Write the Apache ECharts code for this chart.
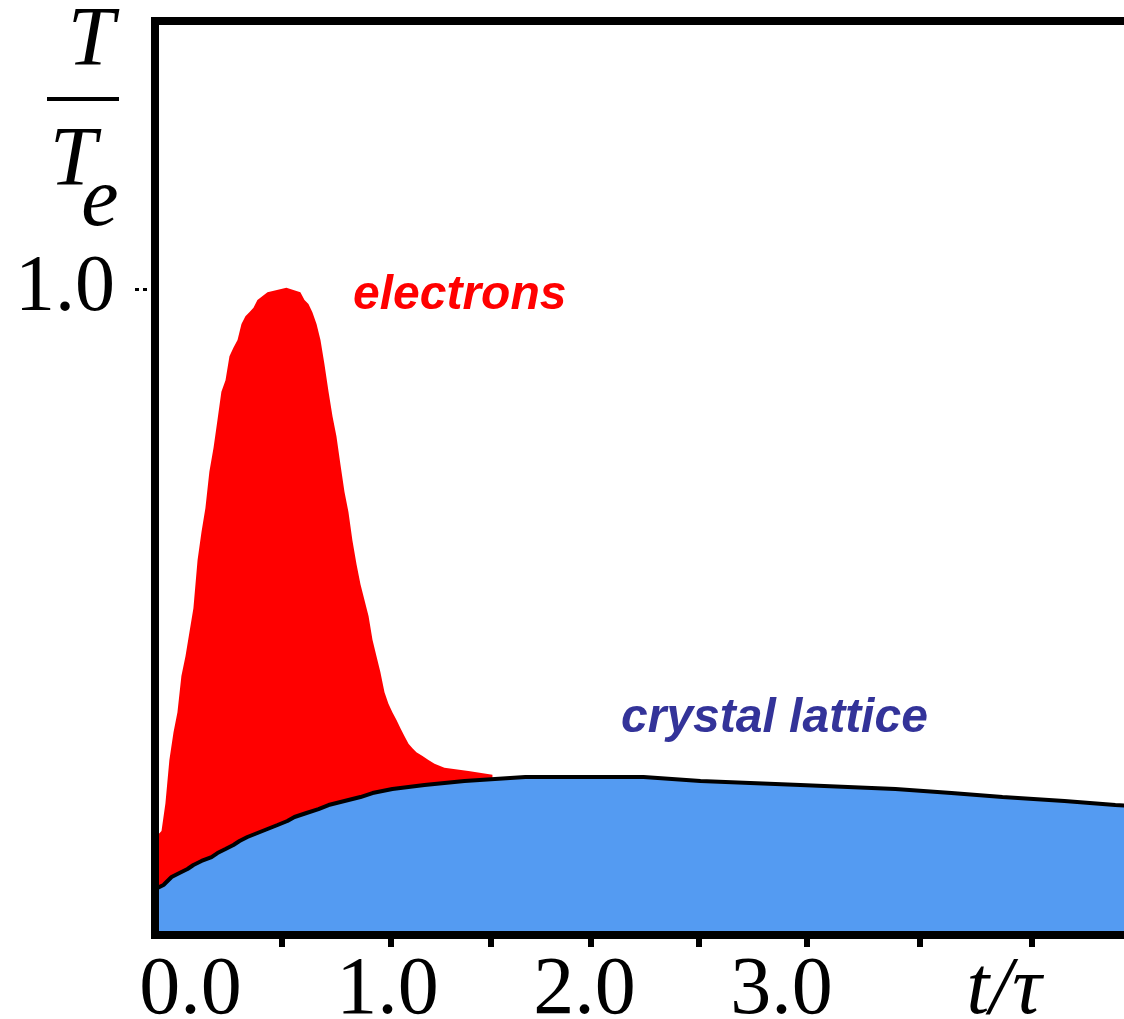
<!DOCTYPE html>
<html>
<head>
<meta charset="utf-8">
<script src="https://cdn.jsdelivr.net/npm/echarts@6/dist/echarts.min.js"></script>
<style>
  html, body { margin: 0; padding: 0; background: #ffffff; }
  #chart { width: 1124px; height: 1019px; }
</style>
</head>
<body>
<div id="chart"></div>
<script>
// ---- data (t/τ, T/Te) ----
const electronsT = [-0.18, -0.147, -0.127, -0.107, -0.086, -0.066, -0.046, -0.025, -0.005, 0.015, 0.036, 0.056, 0.076, 0.096, 0.117, 0.137, 0.157, 0.178, 0.198, 0.218, 0.239, 0.259, 0.279, 0.299, 0.320, 0.340, 0.391, 0.487, 0.558, 0.579, 0.599, 0.619, 0.640, 0.660, 0.680, 0.701, 0.721, 0.741, 0.761, 0.782, 0.802, 0.822, 0.843, 0.863, 0.883, 0.904, 0.924, 0.944, 0.964, 0.985, 1.005, 1.025, 1.046, 1.066, 1.086, 1.107, 1.127, 1.147, 1.178, 1.208, 1.239, 1.289, 1.411, 1.533];
const electronsY = [0.150, 0.161, 0.204, 0.271, 0.314, 0.345, 0.401, 0.432, 0.469, 0.506, 0.580, 0.624, 0.661, 0.717, 0.754, 0.797, 0.841, 0.859, 0.896, 0.909, 0.921, 0.946, 0.958, 0.964, 0.971, 0.983, 0.995, 1.002, 0.995, 0.983, 0.977, 0.964, 0.946, 0.921, 0.884, 0.841, 0.803, 0.772, 0.729, 0.686, 0.655, 0.611, 0.574, 0.543, 0.519, 0.494, 0.457, 0.432, 0.407, 0.376, 0.358, 0.345, 0.333, 0.320, 0.308, 0.296, 0.289, 0.283, 0.277, 0.271, 0.265, 0.259, 0.254, 0.248];

const latticeT = [-0.18, -0.137, -0.096, -0.056, -0.015, 0.015, 0.056, 0.107, 0.137, 0.178, 0.218, 0.249, 0.289, 0.340, 0.391, 0.442, 0.492, 0.528, 0.589, 0.650, 0.701, 0.782, 0.863, 0.924, 1.025, 1.188, 1.391, 1.700, 2.000, 2.300, 2.589, 3.096, 3.579, 3.863, 4.122, 4.437, 4.695, 4.802];
const latticeY = [0.071, 0.0774, 0.0898, 0.0960, 0.1022, 0.1084, 0.1146, 0.1207, 0.1269, 0.1331, 0.1393, 0.1455, 0.1517, 0.1579, 0.1641, 0.1703, 0.1765, 0.1827, 0.1889, 0.1950, 0.2012, 0.2074, 0.2136, 0.2198, 0.2260, 0.2322, 0.2384, 0.2446, 0.2446, 0.2446, 0.2384, 0.2322, 0.2260, 0.2198, 0.2136, 0.2074, 0.2012, 0.1997];

const xLabelValues = [0, 1, 2, 3, 4.13];
const xLabelTexts = ['0.0', '1.0', '2.0', '3.0', 't/τ'];
const xTickValues = [0.462, 1.015, 1.523, 2.030, 2.579, 3.127, 3.701, 4.269];
const yLabelValues = [1.0];
const yLabelTexts = ['1.0'];

const seriesNames = ['electrons', 'crystal lattice'];

// ---- chart ----
const chart = echarts.init(document.getElementById('chart'), null, { renderer: 'canvas' });

function zip(a, b) { return a.map((v, i) => [v, b[i]]); }
function pick(values, texts, v) {
  let best = 0;
  for (let i = 1; i < values.length; i++) {
    if (Math.abs(values[i] - v) < Math.abs(values[best] - v)) best = i;
  }
  return texts[best];
}

const GRID_LEFT = 155, GRID_TOP = 21, GRID_BOTTOM = 84, GRID_RIGHT = -12;

const option = {
  animation: false,
  backgroundColor: '#ffffff',
  grid: {
    left: GRID_LEFT, top: GRID_TOP, bottom: GRID_BOTTOM, right: GRID_RIGHT,
    containLabel: false, outerBoundsMode: 'none', show: false
  },
  xAxis: {
    type: 'value',
    min: -0.18,
    max: 4.8,
    axisLine: { show: false, onZero: false },
    splitLine: { show: false },
    axisTick: {
      show: true,
      customValues: xTickValues,
      length: 12,
      lineStyle: { color: '#000000', width: 6 }
    },
    axisLabel: {
      show: true,
      customValues: xLabelValues,
      margin: 15,
      color: '#000000',
      fontFamily: 'Liberation Serif',
      fontSize: 82,
      lineHeight: 82,
      formatter: function (v) {
        const t = pick(xLabelValues, xLabelTexts, v);
        return t === 't/τ' ? '{it|' + t + '}' : t;
      },
      rich: {
        it: { fontFamily: 'Liberation Serif', fontStyle: 'italic', fontSize: 82, lineHeight: 82, color: '#000000' }
      }
    }
  },
  yAxis: {
    type: 'value',
    min: 0,
    max: 1.415,
    axisLine: { show: false, onZero: false },
    splitLine: { show: false },
    axisTick: {
      show: true,
      customValues: yLabelValues,
      length: 20,
      lineStyle: { color: '#000000', width: 3, type: [4, 4] }
    },
    axisLabel: {
      show: true,
      customValues: yLabelValues,
      margin: 40,
      color: '#000000',
      fontFamily: 'Liberation Serif',
      fontSize: 80,
      lineHeight: 80,
      padding: [40, 0, 0, 0],
      formatter: function (v) { return pick(yLabelValues, yLabelTexts, v); }
    }
  },
  series: [
    {
      name: seriesNames[0],
      type: 'line',
      data: zip(electronsT, electronsY),
      symbol: 'none',
      lineStyle: { opacity: 0, width: 0 },
      areaStyle: { color: '#ff0000', opacity: 1 },
      z: 2
    },
    {
      name: seriesNames[1],
      type: 'line',
      data: zip(latticeT, latticeY),
      symbol: 'none',
      lineStyle: { color: '#000000', width: 4 },
      areaStyle: { color: '#549BF2', opacity: 1 },
      z: 3
    }
  ],
  graphic: [
    {
      type: 'rect',
      z: 100,
      silent: true,
      shape: { x: GRID_LEFT, y: GRID_TOP, width: 1124 - GRID_LEFT - GRID_RIGHT, height: 1019 - GRID_TOP - GRID_BOTTOM },
      style: { fill: null, stroke: '#000000', lineWidth: 8 }
    },
    {
      type: 'text', z: 100, x: 91, y: 43,
      style: { text: 'T', font: 'italic 84px "Liberation Serif"', fill: '#000000', align: 'center', verticalAlign: 'middle' }
    },
    {
      type: 'line', z: 100,
      shape: { x1: 47, y1: 99, x2: 119, y2: 99 },
      style: { stroke: '#000000', lineWidth: 4 }
    },
    {
      type: 'text', z: 100, x: 73, y: 163,
      style: { text: 'T', font: 'italic 84px "Liberation Serif"', fill: '#000000', align: 'center', verticalAlign: 'middle' }
    },
    {
      type: 'text', z: 100, x: 100, y: 203,
      style: { text: 'e', font: 'italic 84px "Liberation Serif"', fill: '#000000', align: 'center', verticalAlign: 'middle' }
    },
    {
      type: 'text', z: 100, x: 353, y: 296,
      style: { text: seriesNames[0], font: 'italic bold 48px "Liberation Sans"', fill: '#ff0000', align: 'left', verticalAlign: 'middle' }
    },
    {
      type: 'text', z: 100, x: 621, y: 719,
      style: { text: seriesNames[1], font: 'italic bold 48px "Liberation Sans"', fill: '#333399', align: 'left', verticalAlign: 'middle' }
    }
  ]
};

chart.setOption(option);
</script>
</body>
</html>
